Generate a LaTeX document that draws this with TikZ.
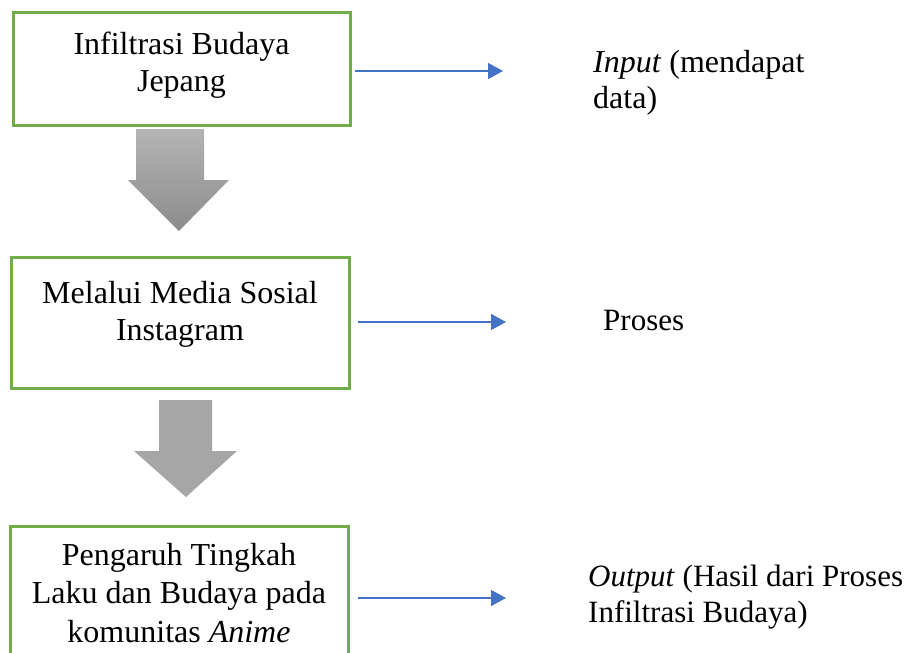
\documentclass[tikz,border=0pt]{standalone}
\usepackage{fontspec}
\setmainfont{Liberation Serif}
\usetikzlibrary{arrows.meta}
\definecolor{boxgreen}{HTML}{70AD47}
\definecolor{arrowblue}{HTML}{4472C4}
\definecolor{graylight}{HTML}{B4B4B4}
\definecolor{graydark}{HTML}{8C8C8C}
\definecolor{grayflat}{HTML}{A6A6A6}
\tikzset{
  greenbox/.style={draw=boxgreen, line width=3pt, fill=white},
  boxtext/.style={inner sep=0pt, anchor=north, align=center, font=\fontsize{32pt}{37pt}\selectfont},
  sidetext/.style={inner sep=0pt, anchor=north west, align=left, font=\fontsize{31pt}{36pt}\selectfont},
  bluearrow/.style={draw=arrowblue, line width=1.3pt, -{Triangle[length=15pt,width=16pt]}}
}
\begin{document}
\begin{tikzpicture}[x=1pt,y=-1pt]
\clip (0,0) rectangle (913,653);
\fill[white] (0,0) rectangle (913,653);

% boxes
\draw[greenbox] (13,12) rectangle (350,125);
\draw[greenbox] (11,257) rectangle (349,388);
\draw[greenbox] (10,526) rectangle (348,700);

\node[boxtext] (t1) at (181.5,32) {Infiltrasi Budaya\\Jepang};
\node[boxtext] (t2) at (180,281) {Melalui Media Sosial\\Instagram};
\node[boxtext, font=\fontsize{32pt}{38.5pt}\selectfont] (t3) at (179,543) {Pengaruh Tingkah\\Laku dan Budaya pada\\komunitas \textit{Anime}};

% block arrows
\shade[top color=graylight, bottom color=graydark]
  (136,129) -- (204,129) -- (204,180) -- (229,180) -- (179,231) -- (128,180) -- (136,180) -- cycle;
\fill[grayflat]
  (159,400) -- (212,400) -- (212,451) -- (237,451) -- (186,497) -- (134,451) -- (159,451) -- cycle;

% side arrows
\coordinate (s1) at (355,71);
\coordinate (e1) at (503,71);
\coordinate (s2) at (358,322);
\coordinate (e2) at (506,322);
\coordinate (s3) at (358,598);
\coordinate (e3) at (506,598);
\draw[bluearrow] (s1) -- (e1);
\draw[bluearrow] (s2) -- (e2);
\draw[bluearrow] (s3) -- (e3);

% side texts
\node[sidetext, font=\fontsize{32pt}{36pt}\selectfont] (in) at (593,50) {\textit{Input} (mendapat\\data)};
\node[sidetext] (pr) at (603,310) {Proses};
\node[sidetext] (out) at (588,565) {\textit{Output} (Hasil dari Proses\\Infiltrasi Budaya)};
\end{tikzpicture}
\end{document}
